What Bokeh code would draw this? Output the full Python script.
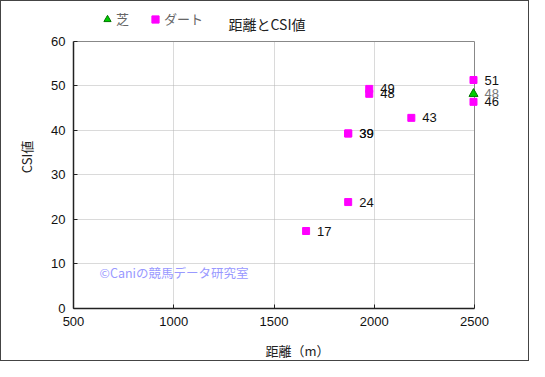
from bokeh.plotting import figure
from bokeh.models import (Range1d, FixedTicker, ColumnDataSource, LabelSet, Label,
                          Legend, LegendItem, Grid)
from bokeh.core.properties import value
from bokeh.embed import file_html
from bokeh.resources import INLINE

# data
turf_x = [2495]
turf_y = [48.2]
turf_lbl = ["48"]

dirt_x = [1660, 1870, 1870, 1870, 1975, 1975, 2185, 2495, 2495]
dirt_y = [17.4, 23.9, 39.3, 39.3, 49.3, 48.2, 42.8, 51.3, 46.4]
dirt_lbl = ["17", "24", "39", "39", "49", "48", "43", "51", "46"]

x_ticks = [500, 1000, 1500, 2000, 2500]
y_ticks = [0, 10, 20, 30, 40, 50, 60]

JP = "Noto Sans CJK JP"
NUM = "Liberation Sans"

W, H = 529, 361
left, top, right, bottom = 72, 4, 9, 52
plot_w_px = 401                          # pixel extent of 500..2500
plot_h_px = H - bottom - 40              # pixel extent of 0..60
sx = (x_ticks[-1] - x_ticks[0]) / plot_w_px
sy = (y_ticks[-1] - y_ticks[0]) / plot_h_px
frame_w = W - left - right
frame_h = H - top - bottom
x_end = x_ticks[0] + frame_w * sx
y_end = y_ticks[0] + frame_h * sy

p = figure(width=W, height=H, output_backend="svg", toolbar_location=None, title=None,
           x_range=Range1d(x_ticks[0], x_end), y_range=Range1d(y_ticks[0], y_end),
           min_border_left=left, min_border_right=right, min_border_top=top,
           min_border_bottom=bottom)
p.styles = {"border": "1px solid #444", "box-sizing": "border-box"}
p.outline_line_color = None

for ax in (p.xaxis[0], p.yaxis[0]):
    ax.axis_line_color = "#222"
    ax.axis_line_width = 1.5
    ax.major_tick_in = 4
    ax.major_tick_out = 0
    ax.minor_tick_line_color = None
    ax.major_tick_line_color = "#222"
    ax.major_label_text_font = NUM
    ax.major_label_text_font_size = "13px"
    ax.major_label_text_color = "#111"
    ax.axis_label_text_font = JP
    ax.axis_label_text_font_size = "13px"
    ax.axis_label_text_font_style = "normal"
    ax.axis_label_text_color = "#222"

p.xaxis.ticker = FixedTicker(ticks=x_ticks)
p.yaxis.ticker = FixedTicker(ticks=y_ticks)
p.xaxis.bounds = (x_ticks[0], x_ticks[-1])
p.yaxis.bounds = (y_ticks[0], y_ticks[-1])
p.xaxis.axis_label = "距離（m）"
p.yaxis.axis_label = "CSI値"
p.xaxis.major_label_standoff = 8
p.yaxis.major_label_standoff = 8
p.xaxis.axis_label_standoff = 12
p.yaxis.axis_label_standoff = 12

p.xgrid[0].ticker = FixedTicker(ticks=x_ticks[1:-1])
p.ygrid[0].ticker = FixedTicker(ticks=y_ticks[1:-1])
p.xgrid[0].cross_bounds = (y_ticks[0], y_ticks[-1])
p.ygrid[0].cross_bounds = (x_ticks[0], x_ticks[-1])
for g in (p.xgrid[0], p.ygrid[0]):
    g.grid_line_color = "#b4b4b4"
    g.grid_line_dash = "1 1"
    g.grid_line_width = 1

# plot-area border (top and right edges)
p.add_layout(Grid(dimension=0, ticker=FixedTicker(ticks=[x_ticks[-1]]),
                  cross_bounds=(y_ticks[0], y_ticks[-1]), grid_line_color="#888"))
p.add_layout(Grid(dimension=1, ticker=FixedTicker(ticks=[y_ticks[-1]]),
                  cross_bounds=(x_ticks[0], x_ticks[-1]), grid_line_color="#888"))

turf_src = ColumnDataSource(dict(x=turf_x, y=turf_y, t=turf_lbl))
dirt_src = ColumnDataSource(dict(x=dirt_x, y=dirt_y, t=dirt_lbl))

r_dirt = p.scatter("x", "y", source=dirt_src, marker="square", size=7,
                   fill_color="#ff00ff", line_color="#ff00ff")
r_turf = p.scatter("x", "y", source=turf_src, marker="triangle", size=9,
                   fill_color="#00cc00", line_color="#007700", line_width=1)

p.add_layout(LabelSet(x="x", y="y", text="t", source=dirt_src, x_offset=11,
                      text_baseline="middle", text_font=value(NUM),
                      text_font_size=value("13px"), text_color="#111"))
p.add_layout(LabelSet(x="x", y="y", text="t", source=turf_src, x_offset=11,
                      text_baseline="middle", text_font=value(NUM),
                      text_font_size=value("13px"), text_color="#777"))

p.add_layout(Label(x=x_ticks[0] + 26 * sx, y=8.0, text="©Caniの競馬データ研究室",
                   text_font=JP, text_font_size="12.5px", text_color="#9999ff",
                   text_baseline="middle"))

# title drawn inside the (extended) frame
p.add_layout(Label(x=x_ticks[0] + 155 * sx, y=y_ticks[-1] + 17 * sy, text="距離とCSI値",
                   text_font=JP, text_font_size="14px", text_color="#222",
                   text_baseline="middle"))

legend = Legend(items=[LegendItem(label="芝", renderers=[r_turf]),
                       LegendItem(label="ダート", renderers=[r_dirt])],
                orientation="horizontal", location=(25, 280),
                background_fill_alpha=0, border_line_color=None,
                label_text_font=JP, label_text_font_size="13px", label_text_color="#666",
                glyph_width=18, glyph_height=18, label_standoff=-5, spacing=10,
                padding=0, margin=0)
p.add_layout(legend)

open("out.html", "w").write(file_html(p, INLINE))
